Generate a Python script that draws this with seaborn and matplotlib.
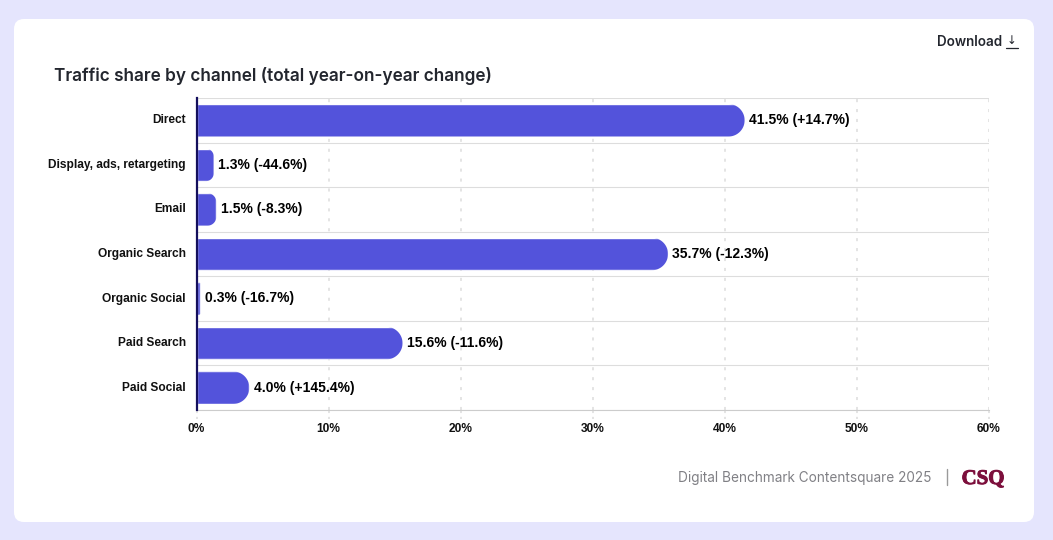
import numpy as np
import pandas as pd
import seaborn as sns
import matplotlib.pyplot as plt
import matplotlib.patheffects as pe
from matplotlib.patches import FancyBboxPatch
from matplotlib.path import Path
from matplotlib.transforms import IdentityTransform

channels = ['Direct', 'Display, ads, retargeting', 'Email', 'Organic Search',
            'Organic Social', 'Paid Search', 'Paid Social']
share = [41.5, 1.3, 1.5, 35.7, 0.3, 15.6, 4.0]
change = ['+14.7', '-44.6', '-8.3', '-12.3', '-16.7', '-11.6', '+145.4']
xticks = [0, 10, 20, 30, 40, 50, 60]

W, H = 1053, 540
df = pd.DataFrame({'channel': channels, 'share': share})

sns.set_theme(style='white')
plt.rcParams['font.family'] = ['Liberation Sans', 'DejaVu Sans']

fig = plt.figure(figsize=(W / 100, H / 100), dpi=100, facecolor='#e5e5fd')

# white card behind everything
card = FancyBboxPatch((14, H - 522), 1020, 503, boxstyle='round,pad=0,rounding_size=10',
                      transform=IdentityTransform(), fc='white', ec='none', zorder=-1)
fig.add_artist(card)
card.set_transform(IdentityTransform())

ax = fig.add_axes([196.5 / W, 1 - 410 / H, (989 - 196.5) / W, (410 - 98) / H])
ax.patch.set_alpha(0)

sns.barplot(data=df, x='share', y='channel', color='#5353db', saturation=1,
            width=0.73, ax=ax, zorder=3)

ax.set_xlim(0, 60)
ax.set_ylim(6.5, -0.5)
ax.set_xlabel('')
ax.set_ylabel('')
ax.set_xticks(xticks)
ax.set_xticklabels([f'{t}%' for t in xticks], fontsize=8.6, fontweight='bold', color='#111111')
ax.set_yticks(np.arange(-0.5, 7), minor=True)
ax.tick_params(axis='y', which='major', length=0, pad=7.6)
ax.tick_params(axis='y', which='minor', length=6, width=0.8, color='#dddddd')
ax.tick_params(axis='x', which='major', length=6, width=1, color='#dddddd', pad=3,
               bottom=False)
for lab in ax.get_yticklabels():
    lab.set_fontsize(8.6)
    lab.set_fontweight('bold')
    lab.set_color('#111111')
    lab.set_y(lab.get_position()[1])
    lab.set_verticalalignment('center')

ax.grid(True, axis='y', which='minor', color='#dddddd', lw=0.8, zorder=0)
ax.grid(True, axis='x', which='major', color='#dcdcdc', lw=1.1, ls=(0, (2, 4.5)), zorder=0)
ax.grid(False, axis='y', which='major')

for name in ['top', 'right']:
    ax.spines[name].set_visible(False)
ax.spines['bottom'].set_color('#cccccc')
ax.spines['bottom'].set_linewidth(0.8)
ax.spines['left'].set_color('#140f5c')
ax.spines['left'].set_linewidth(1.6)
ax.spines['left'].set_zorder(5)

# dashed stubs under the axis
for t in xticks:
    ax.plot([t, t], [6.5, 6.5 + 9 / 44.57], color='#dcdcdc', lw=1.1, ls=(0, (2, 2.5)),
            clip_on=False, zorder=0)

fig.canvas.draw()

# round the right end of every bar with true circular corners
for bar, val, chg in zip(ax.patches, share, change):
    bb = bar.get_window_extent()
    r = min(bb.height / 2, bb.width * 0.45)
    theta = np.linspace(-np.pi / 2, 0, 24)
    low = np.column_stack([bb.x1 - r + r * np.cos(theta), bb.y0 + r + r * np.sin(theta)])
    theta = np.linspace(0, np.pi / 2, 24)
    high = np.column_stack([bb.x1 - r + r * np.cos(theta), bb.y1 - r + r * np.sin(theta)])
    outline = np.vstack([[[bb.x0 - 2, bb.y0]], low, high, [[bb.x0 - 2, bb.y1]], [[bb.x0 - 2, bb.y0]]])
    bar.set_clip_path(Path(outline, closed=True), IdentityTransform())
    ax.annotate(f'{val:.1f}% ({chg}%)', (val, bar.get_y() + bar.get_height() / 2),
                xytext=(3.2, 0.1), textcoords='offset points', va='center', ha='left',
                fontsize=10, fontweight='bold', color='#000000', zorder=6)

fig.text(54 / W, 1 - 76.5 / H, 'Traffic share by channel (total year-on-year change)',
         family=['Inter', 'DejaVu Sans'], fontsize=12.35, fontweight=600, color='#23262e',
         ha='left', va='center')
fig.text(1002 / W, 1 - 41.5 / H, 'Download', family=['Inter', 'DejaVu Sans'], fontsize=9.65,
         fontweight=600, color='#23262e', ha='right', va='center')
fig.text(1011.5 / W, 1 - 40.5 / H, '↓', family=['DejaVu Sans'], fontsize=8.5,
         color='#23262e', ha='center', va='center')
fig.add_artist(plt.Line2D([1005.5 / W, 1018 / W], [1 - 47.5 / H] * 2, color='#23262e', lw=0.9))

fig.text(931 / W, 1 - 478 / H, 'Digital Benchmark Contentsquare 2025',
         family=['Inter', 'DejaVu Sans'], fontsize=9.8, color='#808085', ha='right', va='center')
fig.add_artist(plt.Line2D([947 / W, 947 / W], [1 - 469 / H, 1 - 485 / H], color='#9a9a9a', lw=1))
logo = fig.text(983 / W, 1 - 479 / H, 'CSQ', family=['Liberation Serif'], fontsize=15,
                fontweight='bold', color='#7c0f3c', ha='center', va='center')
logo.set_path_effects([pe.withStroke(linewidth=0.7, foreground='#7c0f3c')])

fig.savefig('out.png', dpi=100, facecolor=fig.get_facecolor())
